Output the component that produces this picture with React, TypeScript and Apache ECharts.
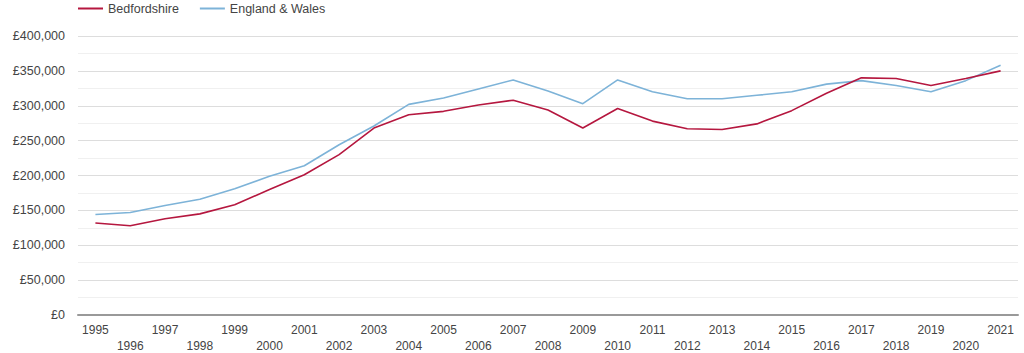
import React, { useEffect, useRef } from "react";
import * as echarts from "echarts";

const years = ["1995","1996","1997","1998","1999","2000","2001","2002","2003","2004","2005","2006","2007","2008","2009","2010","2011","2012","2013","2014","2015","2016","2017","2018","2019","2020","2021"];
const bedfordshire = [132000,128000,138000,145000,158000,180000,201000,230000,268000,287000,292000,301000,308000,294000,268000,296000,278000,267000,266000,274000,293000,318000,340000,339000,329000,339000,350000];
const englandWales = [144000,147000,157000,166000,181000,199000,214000,244000,271000,302000,311000,324000,337000,321000,303000,337000,320000,310000,310000,315000,320000,331000,336000,329000,320000,336000,358000];

export default function App() {
  const ref = useRef<HTMLDivElement>(null);
  useEffect(() => {
    const chart = echarts.init(ref.current!, null, { renderer: "svg" });
    chart.setOption({
      animation: false,
      textStyle: { fontFamily: "Liberation Sans, Arial, sans-serif" },
      legend: {
        left: 73,
        top: -3,
        itemWidth: 25,
        itemHeight: 2,
        itemGap: 21,
        icon: "rect",
        textStyle: { color: "#444", fontSize: 12.5 },
        data: ["Bedfordshire", "England & Wales"],
      },
      grid: { left: 78, right: 6, top: 36, bottom: 38, outerBoundsMode: "none" },
      xAxis: {
        type: "category",
        data: years,
        boundaryGap: true,
        axisLine: { lineStyle: { color: "#999", width: 2 } },
        axisTick: { show: false },
        axisLabel: {
          interval: 0,
          color: "#444",
          fontSize: 12,
          margin: 7,
          lineHeight: 16,
          formatter: (v: string, i: number) => (i % 2 === 0 ? v : "\n" + v),
        },
      },
      yAxis: {
        type: "value",
        min: 0,
        max: 400000,
        interval: 50000,
        axisLine: { show: false },
        axisTick: { show: false },
        axisLabel: {
          color: "#444",
          fontSize: 12.5,
          margin: 13,
          formatter: (v: number) => "£" + v.toLocaleString("en-GB"),
        },
        splitLine: { lineStyle: { color: "#ddd", width: 1 } },
        minorTick: { show: false, splitNumber: 2 },
        minorSplitLine: { show: true, lineStyle: { color: "#f0f0f0", width: 1 } },
      },
      series: [
        {
          name: "Bedfordshire",
          type: "line",
          data: bedfordshire,
          symbol: "none",
          lineStyle: { color: "#b5173f", width: 1.6 },
          itemStyle: { color: "#b5173f" },
          z: 3,
        },
        {
          name: "England & Wales",
          type: "line",
          data: englandWales,
          symbol: "none",
          lineStyle: { color: "#7db3d8", width: 1.6 },
          itemStyle: { color: "#7db3d8" },
          z: 2,
        },
      ],
    });
    return () => chart.dispose();
  }, []);
  return <div ref={ref} style={{ width: 1024, height: 353, position: "absolute", left: 0, top: 0 }} />;
}
